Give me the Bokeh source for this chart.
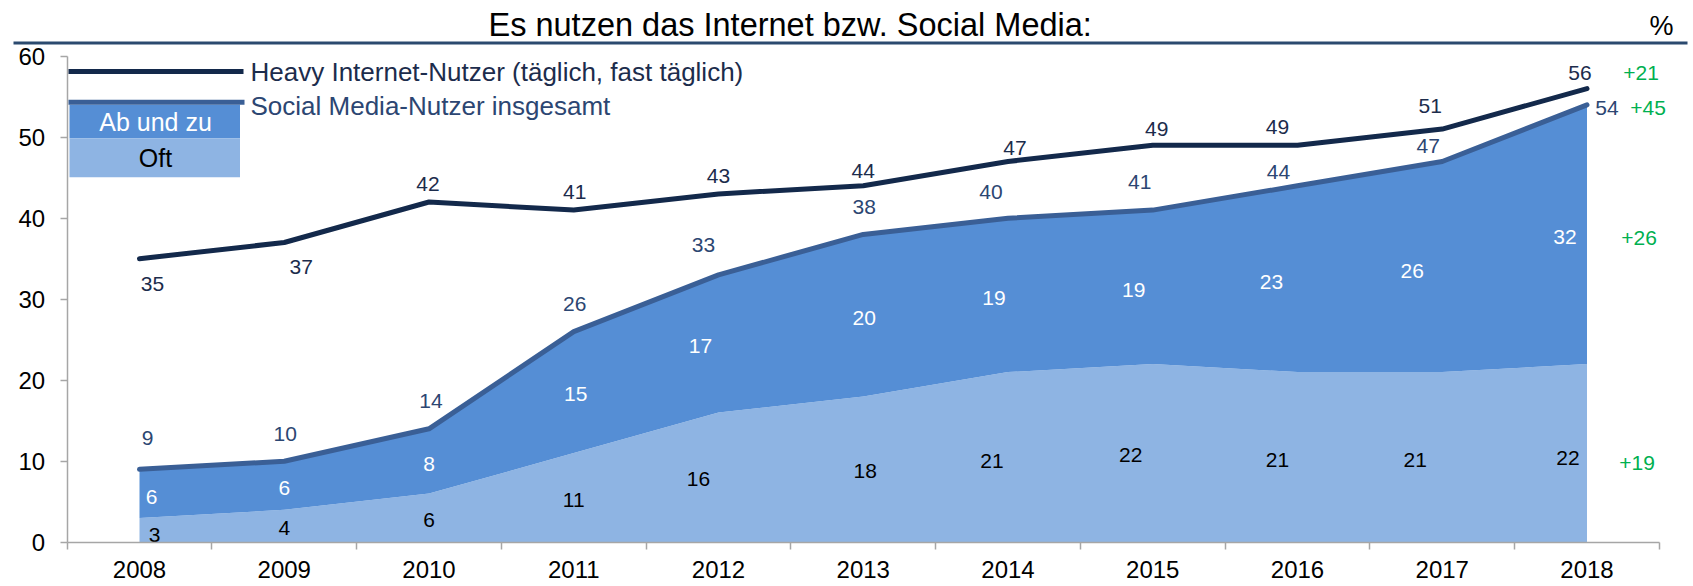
from bokeh.plotting import figure
from bokeh.models import Range1d, FixedTicker, BoxAnnotation, Label, ColumnDataSource
from bokeh.core.properties import value
from bokeh.embed import file_html
from bokeh.resources import INLINE

# ---------------- data ----------------
years = ["2008", "2009", "2010", "2011", "2012", "2013", "2014", "2015", "2016", "2017", "2018"]
heavy = [35, 37, 42, 41, 43, 44, 47, 49, 49, 51, 56]
social_total = [9, 10, 14, 26, 33, 38, 40, 41, 44, 47, 54]
oft = [3, 4, 6, 11, 16, 18, 21, 22, 21, 21, 22]
ab_und_zu = [6, 6, 8, 15, 17, 20, 19, 19, 23, 26, 32]
y_ticks = [0, 10, 20, 30, 40, 50, 60]

title_text = "Es nutzen das Internet bzw. Social Media:"
unit_text = "%"
legend_heavy = "Heavy Internet-Nutzer (täglich, fast täglich)"
legend_social = "Social Media-Nutzer insgesamt"
legend_ab = "Ab und zu"
legend_oft = "Oft"

# ---------------- label layout (pixel nudges, as in the original) ----------------
heavy_dx = [13, 17, -1, 1, 0, 0, 7, 4, -20, -12, -7]
heavy_dy = [25, 24, -18, -18, -18, -15, -14, -16, -18, -23, -16]
social_dx = [8, 1, 2, 1, -15, 1, -17, -13, -19, -14, 20]
social_dy = [-31, -27, -28, -28, -30, -27, -26, -28, -14, -16, 3]
ab_dx = [12, 0, 0, 2, -18, 1, -14, -19, -26, -30, -22]
ab_dy = [3, 2, 3, 2, 2, 3, 3, 3, 3, 4, 3]
oft_dx = [15, 0, 0, 0, -20, 2, -16, -22, -20, -27, -19]
oft_dy = [5, 2, 2, 2, 2, 2, 4, 2, 3, 3, 5]

# ---------------- style / geometry ----------------
FONT = "Liberation Sans"
C_HEAVY = "#13294B"
C_SOCIAL = "#3A5F96"
C_AB = "#558ED5"
C_OFT = "#8EB4E3"
C_HEAVY_TXT = "#1C2C4C"
C_SOCIAL_TXT = "#2C4672"
C_GREEN = "#00B050"
C_AXIS = "#A6A6A6"
C_RULE = "#2B4A6F"

W, H = 1693, 586
X0_PX, X_STEP_PX = 139.0, 144.75      # first category position, category width
Y0_PX, Y_STEP_PX = 541.7, 8.1         # zero line position, px per percent

x = list(range(len(years)))
n = len(years)
last = n - 1
ab_top = [o + a for o, a in zip(oft, ab_und_zu)]
oft_mid = [o / 2 for o in oft]
ab_mid = [o + a / 2 for o, a in zip(oft, ab_und_zu)]

p = figure(width=W, height=H,
           x_range=Range1d(-X0_PX / X_STEP_PX, (W - X0_PX) / X_STEP_PX),
           y_range=Range1d(-(H - Y0_PX) / Y_STEP_PX, Y0_PX / Y_STEP_PX),
           output_backend="svg", toolbar_location=None,
           min_border_left=0, min_border_right=0, min_border_top=0, min_border_bottom=0)
p.outline_line_color = None
p.grid.visible = False
p.background_fill_color = "white"
p.border_fill_color = "white"

# areas
p.varea(x=x, y1=[0] * n, y2=oft, fill_color=C_OFT)
p.varea(x=x, y1=oft, y2=ab_top, fill_color=C_AB)
# lines
p.line(x=x, y=social_total, line_color=C_SOCIAL, line_width=5, line_join="round", line_cap="round")
p.line(x=x, y=heavy, line_color=C_HEAVY, line_width=5, line_join="round", line_cap="round")

# axes (fixed inside the full-size frame, limited by bounds)
p.yaxis.fixed_location = -0.5
p.yaxis.bounds = (y_ticks[0], y_ticks[-1])
p.yaxis.ticker = FixedTicker(ticks=y_ticks)
p.yaxis.axis_line_color = C_AXIS
p.yaxis.axis_line_width = 1.5
p.yaxis.major_tick_line_color = C_AXIS
p.yaxis.major_tick_line_width = 1.5
p.yaxis.major_tick_out = 7
p.yaxis.major_tick_in = 0
p.yaxis.minor_tick_line_color = None
p.yaxis.major_label_standoff = 15
p.yaxis.major_label_text_font = FONT
p.yaxis.major_label_text_font_size = "24px"
p.yaxis.major_label_text_color = "black"

p.xaxis.fixed_location = 0
p.xaxis.bounds = (-0.5, n - 0.5)
p.xaxis.ticker = FixedTicker(ticks=x, minor_ticks=[i - 0.5 for i in range(n + 1)])
p.xaxis.major_label_overrides = {i: yr for i, yr in enumerate(years)}
p.xaxis.axis_line_color = C_AXIS
p.xaxis.axis_line_width = 1.5
p.xaxis.major_tick_line_color = None
p.xaxis.major_tick_out = 0
p.xaxis.major_tick_in = 0
p.xaxis.minor_tick_line_color = C_AXIS
p.xaxis.minor_tick_line_width = 1.5
p.xaxis.minor_tick_out = 7
p.xaxis.minor_tick_in = 0
p.xaxis.major_label_standoff = 12
p.xaxis.major_label_text_font = FONT
p.xaxis.major_label_text_font_size = "24px"
p.xaxis.major_label_text_color = "black"

lbl = dict(text_font=value(FONT), text_font_size="21px", text_align="center", text_baseline="middle")


def labels(ys, vals, dx, dy, color):
    src = ColumnDataSource(dict(x=x, y=ys, t=[str(v) for v in vals], dx=dx, dy=dy))
    p.text(x="x", y="y", text="t", x_offset="dx", y_offset="dy", source=src, text_color=color, **lbl)


labels(heavy, heavy, heavy_dx, heavy_dy, C_HEAVY_TXT)
labels(social_total, social_total, social_dx, social_dy, C_SOCIAL_TXT)
labels(ab_mid, ab_und_zu, ab_dx, ab_dy, "white")
labels(oft_mid, oft, oft_dx, oft_dy, "black")


# change 2008 -> 2018 (green)
def delta(series):
    d = series[last] - series[0]
    return ("+" if d >= 0 else "") + str(d)


gsrc = ColumnDataSource(dict(
    x=[x[last]] * 4,
    y=[heavy[last], social_total[last], ab_mid[last], oft_mid[last]],
    t=[delta(heavy), delta(social_total), delta(ab_und_zu), delta(oft)],
    dx=[54, 61, 52, 50],
    dy=[-16, 3, 4, 10],
))
p.text(x="x", y="y", text="t", x_offset="dx", y_offset="dy", source=gsrc, text_color=C_GREEN, **lbl)

# title, unit, rule (screen units: frame == whole figure, y from bottom)
p.add_layout(Label(x=488, y=H - 24.2, x_units="screen", y_units="screen", text=title_text,
                   text_font=FONT, text_font_size="32.5px", text_color="black",
                   text_align="left", text_baseline="middle"))
p.add_layout(Label(x=1661, y=H - 25, x_units="screen", y_units="screen", text=unit_text,
                   text_font=FONT, text_font_size="27px", text_color="black",
                   text_align="center", text_baseline="middle"))


def box(l, r, b, t, color):
    p.add_layout(BoxAnnotation(left=l, right=r, bottom=H - b, top=H - t,
                               left_units="screen", right_units="screen",
                               bottom_units="screen", top_units="screen",
                               fill_color=color, fill_alpha=1, line_color=None, line_alpha=0))


box(13, 1687, 44, 41, C_RULE)

# legend (page pixel boxes)
box(69, 239.5, 137.7, 104.2, C_AB)
box(69, 239.5, 176.7, 137.7, C_OFT)
box(68, 243, 73.5, 68.5, C_HEAVY)
box(68, 244, 104.2, 99.2, C_SOCIAL)

p.add_layout(Label(x=250, y=H - 71, x_units="screen", y_units="screen", text=legend_heavy,
                   text_font=FONT, text_font_size="26px", text_color=C_HEAVY_TXT,
                   text_align="left", text_baseline="middle"))
p.add_layout(Label(x=250, y=H - 105, x_units="screen", y_units="screen", text=legend_social,
                   text_font=FONT, text_font_size="26px", text_color=C_SOCIAL_TXT,
                   text_align="left", text_baseline="middle"))
p.add_layout(Label(x=155, y=H - 121.5, x_units="screen", y_units="screen", text=legend_ab,
                   text_font=FONT, text_font_size="25px", text_color="white",
                   text_align="center", text_baseline="middle"))
p.add_layout(Label(x=155, y=H - 157.7, x_units="screen", y_units="screen", text=legend_oft,
                   text_font=FONT, text_font_size="25px", text_color="black",
                   text_align="center", text_baseline="middle"))

open("out.html", "w").write(file_html(p, INLINE))
